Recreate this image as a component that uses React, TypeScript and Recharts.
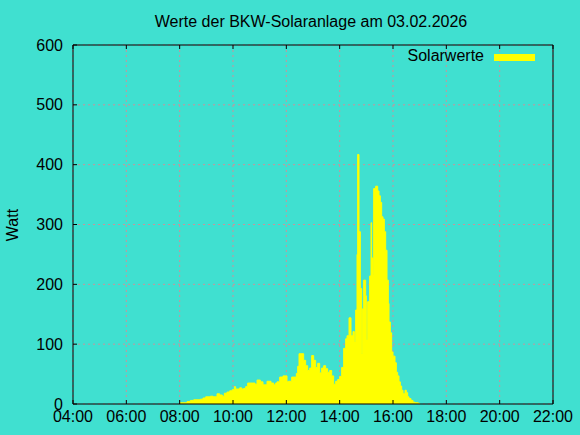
import { Area, AreaChart, CartesianGrid, XAxis, YAxis } from "recharts";

// Minuten seit Mitternacht, an denen sich der Messwert ändert
const TIMES = [
  480, 496.5, 504, 511.5, 526.5, 532.5, 538.5, 549, 555, 564,
  570, 576, 580.5, 586.5, 592.5, 598.5, 603, 606, 615, 619.5,
  624, 628.5, 633, 649.5, 654, 661.5, 667.5, 676.5, 685.5, 691.5,
  696, 699, 705, 712.5, 721.5, 724.5, 732, 742.5, 745.5, 748.5,
  759, 763.5, 768, 772.5, 777, 781.5, 786, 790.5, 795, 799.5,
  804, 808.5, 813, 817.5, 822, 826.5, 831, 835.5, 840, 844.5,
  849, 853.5, 856.5, 861, 865.5, 870, 873, 876, 879, 880.5,
  883.5, 886.5, 889.5, 891, 894, 898.5, 900, 903, 907.5, 910.5,
  912, 915, 916.5, 921, 925.5, 928.5, 931.5, 934.5, 937.5, 940.5,
  943.5, 946.5, 949.5, 951, 954, 957, 960, 964.5, 967.5, 970.5,
  973.5, 976.5, 979.5, 982.5, 987, 990, 993, 996, 1000.5, 1005,
  1009.5, 1017, 1020,
];

const WATTS = [
  2, 4, 6, 7, 8, 10, 12, 13, 12, 17,
  15, 13, 18, 20, 22, 24, 29, 25, 27, 25,
  26, 29, 35, 33, 40, 37, 32, 38, 35, 32,
  35, 37, 45, 47, 37, 38, 45, 51, 63, 84,
  73, 64, 56, 60, 81, 73, 61, 68, 52, 60,
  64, 59, 53, 56, 47, 33, 38, 41, 46, 61,
  93, 109, 114, 144, 114, 121, 104, 157, 250, 417,
  288, 193, 84, 159, 207, 181, 107, 171, 214, 303,
  244, 216, 360, 364, 356, 348, 337, 313, 309, 288,
  257, 207, 168, 137, 119, 87, 80, 69, 53, 47,
  37, 30, 23, 17, 23, 19, 12, 9, 6, 3,
  2, 1, 0,
];

const X_TICKS = [240, 360, 480, 600, 720, 840, 960, 1080, 1200, 1320];
const Y_TICKS = [0, 100, 200, 300, 400, 500, 600];

const TITLE = "Werte der BKW-Solaranlage am 03.02.2026";
const SERIES_NAME = "Solarwerte";
const Y_LABEL = "Watt";

const BG = "#40e0d0";
const YELLOW = "#ffff00";
const GRID = "#c9939b";
const FONT = "'Liberation Sans', Arial, sans-serif";

const data = TIMES.map((t, i) => ({ t, w: WATTS[i] }));

const hhmm = (m: number) =>
  `${String(Math.floor(m / 60)).padStart(2, "0")}:${String(m % 60).padStart(2, "0")}`;

const TICK = 4;

function BottomTick({ x, y, payload }: any) {
  return (
    <g>
      <line x1={x} x2={x} y1={y} y2={y - TICK} stroke="#000" />
      <text x={x} y={y + 18} textAnchor="middle" fontSize={16} fontFamily={FONT} fill="#000">
        {hhmm(payload.value)}
      </text>
    </g>
  );
}

function TopTick({ x, y }: any) {
  return <line x1={x} x2={x} y1={y} y2={y + TICK} stroke="#000" />;
}

function LeftTick({ x, y, payload }: any) {
  return (
    <g>
      <line x1={x} x2={x + TICK} y1={y} y2={y} stroke="#000" />
      <text x={x - 10} y={y} dy="0.35em" textAnchor="end" fontSize={16} fontFamily={FONT} fill="#000">
        {payload.value}
      </text>
    </g>
  );
}

function RightTick({ x, y }: any) {
  return <line x1={x} x2={x - TICK} y1={y} y2={y} stroke="#000" />;
}

export default function App() {
  return (
    <div style={{ position: "relative", width: 580, height: 435, background: BG }}>
      <style>{"body{margin:0}"}</style>
      <AreaChart width={580} height={435} data={data} margin={{ top: 0, right: 0, bottom: 0, left: 0 }}>
        <CartesianGrid stroke={GRID} strokeDasharray="2 3" />
        <XAxis
          dataKey="t"
          type="number"
          domain={[240, 1320]}
          ticks={X_TICKS}
          height={31}
          tickSize={0}
          tickMargin={0}
          tickLine={false}
          axisLine={{ stroke: "#000" }}
          tick={<BottomTick />}
          allowDataOverflow
        />
        <XAxis
          xAxisId="top"
          orientation="top"
          dataKey="t"
          type="number"
          domain={[240, 1320]}
          ticks={X_TICKS}
          height={45}
          tickSize={0}
          tickMargin={0}
          tickLine={false}
          axisLine={{ stroke: "#000" }}
          tick={<TopTick />}
        />
        <YAxis
          domain={[0, 600]}
          ticks={Y_TICKS}
          width={73}
          tickSize={0}
          tickMargin={0}
          tickLine={false}
          axisLine={{ stroke: "#000" }}
          tick={<LeftTick />}
        />
        <YAxis
          yAxisId="right"
          orientation="right"
          domain={[0, 600]}
          ticks={Y_TICKS}
          width={27}
          tickSize={0}
          tickMargin={0}
          tickLine={false}
          axisLine={{ stroke: "#000" }}
          tick={<RightTick />}
        />
        <Area
          type="stepAfter"
          dataKey="w"
          name={SERIES_NAME}
          stroke={YELLOW}
          fill={YELLOW}
          fillOpacity={1}
          dot={false}
          activeDot={false}
          isAnimationActive={false}
        />
      </AreaChart>
      <svg
        width={580}
        height={435}
        style={{ position: "absolute", left: 0, top: 0, pointerEvents: "none" }}
        fontFamily={FONT}
        fontSize={16}
      >
        <text x={311} y={27} textAnchor="middle" fill="#000">
          {TITLE}
        </text>
        <text x={18} y={225} textAnchor="middle" transform="rotate(-90 18 225)" fill="#000">
          {Y_LABEL}
        </text>
        <text x={484} y={61} textAnchor="end" fill="#000">
          {SERIES_NAME}
        </text>
        <rect x={494} y={54} width={41} height={7} fill={YELLOW} />
      </svg>
    </div>
  );
}
